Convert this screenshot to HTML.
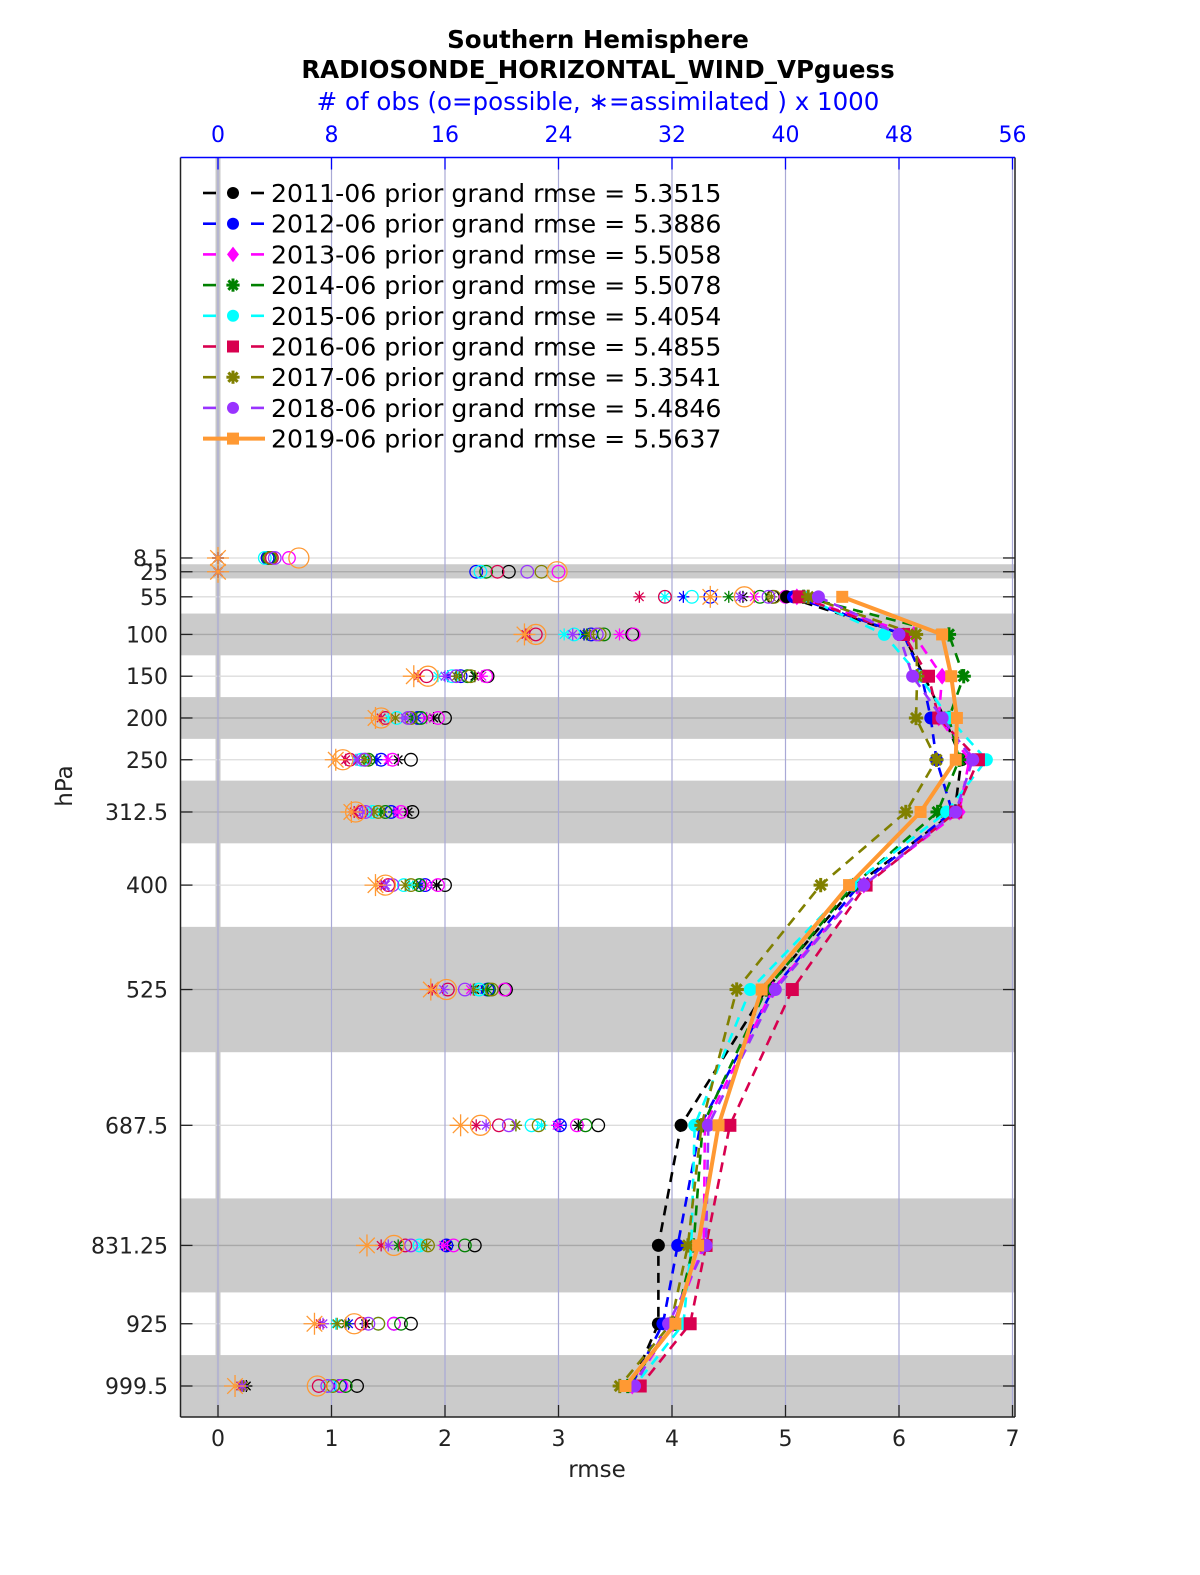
<!DOCTYPE html>
<html><head><meta charset="utf-8"><style>
html,body{margin:0;padding:0;background:#fff;}
svg{display:block;font-family:"DejaVu Sans","Liberation Sans",sans-serif;}
</style></head><body>
<svg id="chart" width="1200" height="1575" viewBox="0 0 1200 1575" xmlns="http://www.w3.org/2000/svg">
<g id="bands"></g>
<g id="grid"></g>
<g id="obs"></g>
<g id="series"></g>
<g id="axes"></g>
<g id="legend"></g>
<text x="598" y="48" text-anchor="middle" font-size="24.5" font-weight="bold">Southern Hemisphere</text>
<text x="598" y="78" text-anchor="middle" font-size="24.5" font-weight="bold">RADIOSONDE_HORIZONTAL_WIND_VPguess</text>
<text x="598" y="110" text-anchor="middle" font-size="24.5" fill="#0000ff"># of obs (o=possible, ∗=assimilated ) x 1000</text>
<text x="597" y="1477" text-anchor="middle" font-size="23" fill="#222">rmse</text>
<text transform="translate(72,786) rotate(-90)" text-anchor="middle" font-size="23" fill="#222">hPa</text>
</svg>
<script>
const levels = [8.5, 25, 55, 100, 150, 200, 250, 312.5, 400, 525, 687.5, 831.25, 925, 999.5];
const levelLabels = ["8.5", "25", "55", "100", "150", "200", "250", "312.5", "400", "525", "687.5", "831.25", "925", "999.5"];
const bandEdges = [[16, 33], [75, 125], [175, 225], [275, 350], [450, 600], [775, 887.5], [962.5, 1050]];
const xTicks = [0, 1, 2, 3, 4, 5, 6, 7];
const topTicks = [0, 8, 16, 24, 32, 40, 48, 56];
const seriesNames = ["2011-06", "2012-06", "2013-06", "2014-06", "2015-06", "2016-06", "2017-06", "2018-06", "2019-06"];
const grandRmse = ["5.3515", "5.3886", "5.5058", "5.5078", "5.4054", "5.4855", "5.3541", "5.4846", "5.5637"];
// rmse for levels 55..999.5 (levels index 2..13)
const rmse2011 = [5.01, 6.04, 6.22, 6.40, 6.55, 6.49, 5.62, 4.83, 4.08, 3.88, 3.88, 3.64];
const rmse2012 = [5.07, 6.04, 6.20, 6.28, 6.33, 6.47, 5.65, 4.89, 4.25, 4.05, 3.92, 3.64];
const rmse2013 = [5.10, 6.13, 6.38, 6.35, 6.62, 6.53, 5.69, 4.89, 4.29, 4.28, 4.01, 3.65];
const rmse2014 = [5.16, 6.44, 6.57, 6.44, 6.53, 6.34, 5.60, 4.83, 4.27, 4.19, 4.03, 3.61];
const rmse2015 = [5.16, 5.87, 6.18, 6.44, 6.77, 6.42, 5.58, 4.69, 4.20, 4.17, 4.10, 3.67];
const rmse2016 = [5.12, 6.04, 6.26, 6.35, 6.70, 6.50, 5.71, 5.06, 4.51, 4.30, 4.16, 3.72];
const rmse2017 = [5.20, 6.15, 6.16, 6.15, 6.33, 6.06, 5.31, 4.57, 4.26, 4.14, 3.99, 3.54];
const rmse2018 = [5.29, 6.00, 6.12, 6.38, 6.65, 6.50, 5.69, 4.91, 4.32, 4.30, 3.97, 3.67];
const rmse2019 = [5.50, 6.38, 6.46, 6.51, 6.50, 6.19, 5.56, 4.79, 4.41, 4.23, 4.03, 3.59];
// possible obs (x1000) for all 14 levels
const poss2011 = [3.5, 20.5, 39.1, 29.2, 19.0, 16.0, 13.6, 13.7, 16.0, 20.3, 26.8, 18.1, 13.6, 9.8];
const poss2012 = [3.5, 18.2, 34.7, 26.3, 17.1, 14.1, 11.5, 12.2, 14.6, 19.0, 24.1, 16.1, 12.4, 8.6];
const poss2013 = [5.0, 24.0, 40.0, 29.3, 18.9, 15.5, 12.3, 12.9, 15.5, 20.2, 25.3, 16.6, 12.4, 8.7];
const poss2014 = [3.6, 18.9, 38.2, 27.2, 17.6, 14.3, 10.6, 11.8, 14.2, 19.1, 25.9, 17.4, 12.9, 9.0];
const poss2015 = [3.3, 18.5, 33.4, 25.1, 16.5, 12.6, 10.1, 10.9, 13.1, 18.4, 22.1, 14.2, 11.3, 7.9];
const poss2016 = [3.8, 19.7, 31.5, 22.4, 14.7, 11.8, 9.3, 10.1, 12.0, 16.2, 19.8, 13.2, 10.1, 7.1];
const poss2017 = [3.7, 22.8, 39.2, 26.9, 17.8, 13.6, 10.4, 11.3, 13.6, 19.3, 22.6, 14.8, 11.3, 8.1];
const poss2018 = [4.0, 21.8, 38.8, 26.7, 16.8, 13.4, 10.3, 10.4, 12.3, 17.4, 20.5, 13.6, 10.6, 7.7];
const poss2019 = [5.7, 23.9, 37.1, 22.4, 14.8, 11.5, 8.8, 9.7, 11.8, 16.1, 18.5, 12.4, 9.6, 7.0];
// assimilated obs (x1000)
const assim2011 = [0, 0, 37.0, 25.8, 18.1, 15.2, 12.7, 13.4, 15.4, 18.1, 25.4, 16.2, 10.4, 2.0];
const assim2012 = [0, 0, 32.8, 25.8, 16.2, 14.0, 11.2, 12.4, 14.3, 18.8, 24.1, 16.1, 9.2, 1.8];
const assim2013 = [0, 0, 37.8, 28.3, 18.6, 14.7, 12.0, 12.7, 14.7, 17.8, 23.9, 15.9, 9.0, 1.8];
const assim2014 = [0, 0, 36.0, 26.0, 17.0, 13.6, 10.6, 11.5, 14.0, 19.0, 21.0, 12.7, 9.0, 1.8];
const assim2015 = [0, 0, 31.5, 24.4, 15.5, 12.0, 9.7, 10.8, 13.5, 18.2, 22.8, 14.3, 8.3, 1.6];
const assim2016 = [0, 0, 29.7, 21.7, 14.1, 11.5, 9.0, 9.6, 11.5, 15.1, 18.2, 11.5, 7.2, 1.6];
const assim2017 = [0, 0, 39.0, 26.2, 16.8, 12.5, 10.3, 11.0, 13.2, 18.0, 21.0, 14.7, 8.4, 1.8];
const assim2018 = [0, 0, 36.8, 25.0, 16.0, 13.2, 9.8, 10.2, 11.8, 15.9, 18.9, 12.0, 7.4, 1.7];
const assim2019 = [0, 0, 34.7, 21.6, 13.8, 11.1, 8.3, 9.4, 11.1, 15.0, 17.1, 10.5, 6.8, 1.2];

const rmseAll = [rmse2011, rmse2012, rmse2013, rmse2014, rmse2015, rmse2016, rmse2017, rmse2018, rmse2019];
const possAll = [poss2011, poss2012, poss2013, poss2014, poss2015, poss2016, poss2017, poss2018, poss2019];
const assimAll = [assim2011, assim2012, assim2013, assim2014, assim2015, assim2016, assim2017, assim2018, assim2019];
const colors = ["#000000", "#0000ff", "#ff00ff", "#008000", "#00ffff", "#d8004f", "#808000", "#9933ff", "#ff9933"];
const shapes = ["circle", "circle", "diamond", "star", "circle", "square", "star", "circle", "square"];

const NS = "http://www.w3.org/2000/svg";
const L = 180.5, R = 1015, T = 157.5, B = 1417;
const x0 = 218, xScale = 113.5;
const xR = v => x0 + v * xScale;
const xO = v => x0 + v / 8 * xScale;
const pMin = -470.8, pMax = 1036.6;
const yP = p => T + (p - pMin) / (pMax - pMin) * (B - T);
const rmseLevels = levels.slice(2);

function mk(tag, attrs, parent) {
  const e = document.createElementNS(NS, tag);
  for (const k in attrs) e.setAttribute(k, attrs[k]);
  parent.appendChild(e);
  return e;
}
const gB = document.getElementById("bands"), gG = document.getElementById("grid"),
      gO = document.getElementById("obs"), gS = document.getElementById("series"),
      gA = document.getElementById("axes"), gL = document.getElementById("legend");

bandEdges.forEach(b => {
  const y1 = Math.max(T, yP(b[0])), y2 = Math.min(B, yP(b[1]));
  const r = mk("rect", {x: L, y: y1, width: R - L, height: y2 - y1, fill: "#cbcbcb"}, gB);
  
  
});
const zs = mk("rect", {x: x0 - 2.5, y: T, width: 5, height: B - T, fill: "#c8c8c8"}, gG);


levels.forEach(p => {
  const y = yP(p);
  const inBand = bandEdges.some(b => p >= b[0] && p <= b[1]);
  const l = mk("line", {x1: L, x2: R, y1: y, y2: y, stroke: inBand ? "#a8a8a8" : "#dcdcdc", "stroke-width": 1.3}, gG);
  
  
});
xTicks.forEach(v => {
  const x = xR(v);
  const l = mk("line", {x1: x, x2: x, y1: T, y2: B, stroke: "#a9a9d6", "stroke-width": 1.2}, gG);
  
  
});

function star(g, cx, cy, r, color, w) {
  for (let i = 0; i < 4; i++) {
    const a = i * Math.PI / 4;
    mk("line", {x1: cx - r * Math.cos(a), y1: cy - r * Math.sin(a), x2: cx + r * Math.cos(a), y2: cy + r * Math.sin(a), stroke: color, "stroke-width": w}, g);
  }
}
for (let s = 0; s < 9; s++) {
  const big = s === 8;
  levels.forEach((p, i) => {
    const y = yP(p);
    const c = mk("circle", {cx: xO(possAll[s][i]), cy: y, r: big ? 10 : 6.3, fill: "none", stroke: colors[s], "stroke-width": 1.3}, gO);
    
    
    const g = mk("g", {}, gO);
    
    
    star(g, xO(assimAll[s][i]), y, big ? 11 : 6, colors[s], 1.3);
  });
}

function marker(g, shape, cx, cy, r, color) {
  if (shape === "circle") mk("circle", {cx, cy, r, fill: color}, g);
  else if (shape === "square") mk("rect", {x: cx - r, y: cy - r, width: 2 * r, height: 2 * r, fill: color}, g);
  else if (shape === "diamond") mk("polygon", {points: `${cx},${cy - r * 1.3} ${cx + r},${cy} ${cx},${cy + r * 1.3} ${cx - r},${cy}`, fill: color}, g);
  else { mk("circle", {cx, cy, r: r * 0.55, fill: color}, g); star(g, cx, cy, r * 1.1, color, 3); }
}
for (let s = 0; s < 9; s++) {
  const pts = rmseAll[s].map((v, i) => `${xR(v)},${yP(rmseLevels[i])}`).join(" ");
  const big = s === 8;
  const pl = mk("polyline", {points: pts, fill: "none", stroke: colors[s], "stroke-width": big ? 4 : 2.6, "stroke-dasharray": big ? "none" : "10,7"}, gS);
  
  
  rmseAll[s].forEach((v, i) => {
    const g = mk("g", {}, gS);
    
    
    marker(g, shapes[s], xR(v), yP(rmseLevels[i]), big ? 6 : 6.5, colors[s]);
  });
}

const box = mk("g", {}, gA);
mk("line", {x1: L, x2: L, y1: T, y2: B, stroke: "#222", "stroke-width": 1.5}, box);
mk("line", {x1: R, x2: R, y1: T, y2: B, stroke: "#222", "stroke-width": 1.5}, box);
mk("line", {x1: L, x2: R, y1: B, y2: B, stroke: "#222", "stroke-width": 1.5}, box);
mk("line", {x1: L, x2: R, y1: T, y2: T, stroke: "#0000ff", "stroke-width": 1.5}, box);
xTicks.forEach(v => {
  const x = xR(v);
  mk("line", {x1: x, x2: x, y1: B, y2: B - 12, stroke: "#222", "stroke-width": 1.3}, gA);
  const t = mk("text", {x, y: 1446, "text-anchor": "middle", "font-size": 22, fill: "#222"}, gA);
  t.textContent = v;
  
  
});
topTicks.forEach(v => {
  const x = xO(v);
  mk("line", {x1: x, x2: x, y1: T, y2: T + 12, stroke: "#0000ff", "stroke-width": 1.3}, gA);
  const t = mk("text", {x, y: 142, "text-anchor": "middle", "font-size": 22, fill: "#0000ff"}, gA);
  t.textContent = v;
  
  
});
levels.forEach((p, i) => {
  const y = yP(p);
  mk("line", {x1: L, x2: L + 12, y1: y, y2: y, stroke: "#222", "stroke-width": 1.3}, gA);
  mk("line", {x1: R, x2: R - 12, y1: y, y2: y, stroke: "#222", "stroke-width": 1.3}, gA);
  const t = mk("text", {x: 168, y: y + 8, "text-anchor": "end", "font-size": 22, fill: "#222"}, gA);
  t.textContent = levelLabels[i];
  
  
});

seriesNames.forEach((n, s) => {
  const y = 193 + s * 30.7;
  const g = mk("g", {}, gL);
  
  
  const big = s === 8;
  if (big) mk("line", {x1: 203, x2: 265, y1: y, y2: y, stroke: colors[s], "stroke-width": 4}, g);
  else {
    mk("line", {x1: 203, x2: 216, y1: y, y2: y, stroke: colors[s], "stroke-width": 2.6}, g);
    mk("line", {x1: 251, x2: 264, y1: y, y2: y, stroke: colors[s], "stroke-width": 2.6}, g);
  }
  marker(g, shapes[s], 233, y, 6, colors[s]);
  const t = mk("text", {x: 271, y: y + 9, "font-size": 25.2, fill: "#000"}, g);
  t.textContent = n + " prior grand rmse = " + grandRmse[s];
});
</script>
</body></html>
